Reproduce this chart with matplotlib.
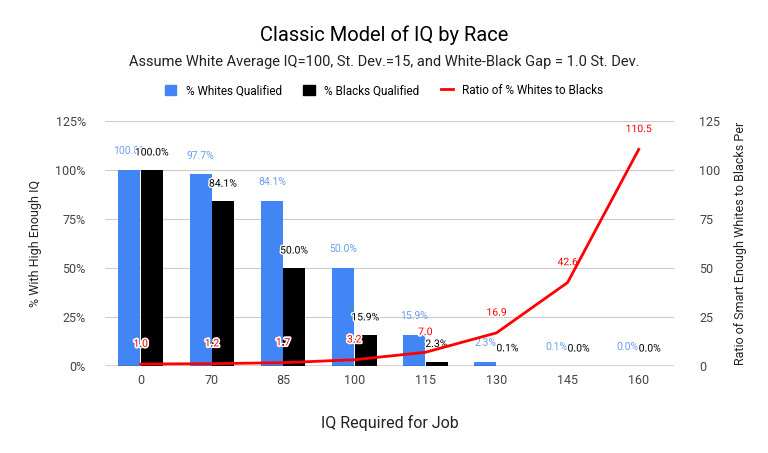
import numpy as np
import matplotlib
matplotlib.use("Agg")
import matplotlib.pyplot as plt
import matplotlib.patheffects as pe
from matplotlib.patches import Patch
from matplotlib.lines import Line2D

plt.rcParams['font.family'] = ['Roboto', 'DejaVu Sans']

iq_levels = ['0', '70', '85', '100', '115', '130', '145', '160']
whites_pct = [100.0, 97.7, 84.1, 50.0, 15.9, 2.3, 0.1, 0.003]
blacks_pct = [100.0, 84.1, 50.0, 15.9, 2.3, 0.1, 0.0, 0.0]
ratio = [1.0, 1.2, 1.7, 3.2, 7.0, 16.9, 42.6, 110.5]

blue = '#4285f4'
blue_text = '#6d9eeb'
red = '#ff0000'
grid_col = '#cccccc'
tick_col = '#444444'

fig = plt.figure(figsize=(7.68, 4.53), dpi=100)
ax = fig.add_axes([0.137, 0.192, 0.741, 0.541])
ax2 = ax.twinx()

x = np.arange(len(iq_levels))
w = 0.31

ax.bar(x - w / 2 - 0.005, whites_pct, w, color=blue, zorder=2)
ax.bar(x + w / 2 + 0.005, blacks_pct, w, color='black', zorder=2)

for i in range(len(x)):
    ax.annotate(f'{whites_pct[i]:.1f}%', (x[i] - w / 2, whites_pct[i]),
                xytext=(0, 10), textcoords='offset points', ha='center',
                va='bottom', fontsize=7.5, color=blue_text, zorder=5)
    ax.annotate(f'{blacks_pct[i]:.1f}%', (x[i] + w / 2, blacks_pct[i]),
                xytext=(0, 9), textcoords='offset points', ha='center',
                va='bottom', fontsize=7.5, color='black', zorder=5,
                path_effects=[pe.withStroke(linewidth=2, foreground='white')])

ax.set_ylim(0, 125)
ax.set_yticks([0, 25, 50, 75, 100, 125])
ax.set_yticklabels(['0%', '25%', '50%', '75%', '100%', '125%'])
ax.set_xlim(-0.5, len(x) - 0.5)
ax.set_xticks(x)
ax.set_xticklabels(iq_levels)
ax.grid(axis='y', color=grid_col, linewidth=0.8, zorder=0)
ax.set_axisbelow(True)

ax2.plot(x, ratio, color=red, linewidth=2, zorder=4)
for i in range(len(x)):
    ax2.annotate(f'{ratio[i]:.1f}', (x[i], ratio[i]), xytext=(0, 11),
                 textcoords='offset points', ha='center', va='bottom',
                 fontsize=7.5, color=red,
                 path_effects=[pe.withStroke(linewidth=2.5, foreground='white')])
ax2.set_ylim(0, 125)
ax2.set_yticks([0, 25, 50, 75, 100, 125])

for a in (ax, ax2):
    for s in ['top', 'left', 'right', 'bottom']:
        a.spines[s].set_visible(False)
    a.tick_params(axis='both', length=0, labelsize=9, colors=tick_col)
ax.tick_params(axis='y', pad=14)
ax2.tick_params(axis='y', pad=18)
ax.tick_params(axis='x', pad=6)
ax.axhline(0, color='#333333', linewidth=1, zorder=3)

ax.set_ylabel('% With High Enough IQ', fontsize=9, color='#222222', labelpad=10)
ax2.set_ylabel('Ratio of Smart Enough Whites to Blacks Per', fontsize=9,
               color='#222222', labelpad=10)
ax.set_xlabel('IQ Required for Job', fontsize=11.5, color='#222222', labelpad=20)

fig.text(0.5, 0.922, 'Classic Model of IQ by Race', ha='center', va='center',
         fontsize=14.5, color='black')
fig.text(0.5, 0.863,
         'Assume White Average IQ=100, St. Dev.=15, and White-Black Gap = 1.0 St. Dev.',
         ha='center', va='center', fontsize=10.5, color='#222222')

handles = [Patch(color=blue, label='% Whites Qualified'),
           Patch(color='black', label='% Blacks Qualified'),
           Line2D([0], [0], color=red, linewidth=2, label='Ratio of % Whites to Blacks')]
fig.legend(handles=handles, loc='center', bbox_to_anchor=(0.5, 0.800), ncol=3,
           frameon=False, fontsize=8.5, handlelength=1.0, handleheight=1.0,
           columnspacing=1.8, handletextpad=0.8)

fig.savefig('out.png', dpi=100)
